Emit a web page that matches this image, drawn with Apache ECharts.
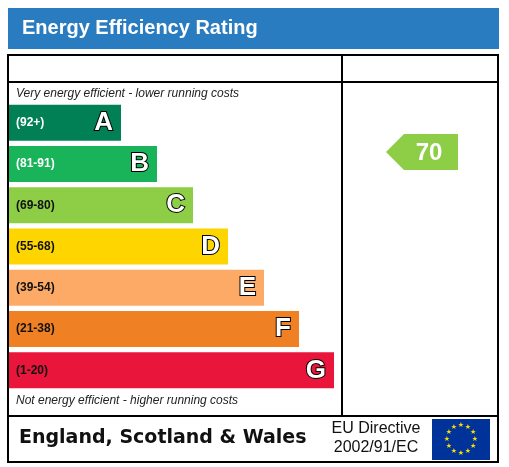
<!DOCTYPE html><html><head><meta charset="utf-8"><script src="https://cdn.jsdelivr.net/npm/echarts@6/dist/echarts.min.js"></script>
<style>body{margin:0}#c{width:509px;height:467px}</style></head><body><div id="c"></div><script>
const bands=['A','B','C','D','E','F','G'];
const ranges=['(92+)','(81-91)','(69-80)','(55-68)','(39-54)','(21-38)','(1-20)'];
const barLengths=[112,148,184,219,255,290,325];
const colors=['#008054','#19b459','#8dce46','#ffd500','#fcaa65','#ef8023','#e9153b'];
const rangeColors=['#fff','#fff','#111','#111','#111','#111','#111'];
const currentRating=70;
const title='Energy Efficiency Rating';
const chart=echarts.init(document.getElementById('c'));
const stars=[];
for(let i=0;i<12;i++){const a=i*Math.PI/6;stars.push({type:'text',style:{text:'★',x:461+14*Math.sin(a),y:439-14*Math.cos(a),fill:'#ffdd00',font:'7px DejaVu Sans',align:'center',verticalAlign:'middle'}});}
chart.setOption({
animation:false,
grid:{left:9,top:102,width:325,height:289},
xAxis:{type:'value',min:0,max:325,show:false},
yAxis:{type:'category',data:bands,inverse:true,show:false},
series:[{type:'bar',barWidth:36,data:barLengths.map((v,i)=>({value:v,itemStyle:{color:colors[i]},
 label:{show:true,position:'insideLeft',offset:[2,0],formatter:ranges[i],color:rangeColors[i],fontSize:12,fontWeight:'bold',fontFamily:'Liberation Sans'}})),
 markPoint:{}},
{type:'bar',barWidth:36,barGap:'-100%',silent:true,data:barLengths.map((v,i)=>({value:v,itemStyle:{color:'transparent'},
 label:{show:true,position:'insideRight',offset:[-3,0],formatter:bands[i],color:'#fff',fontSize:26,fontWeight:'bold',fontFamily:'Liberation Sans',textBorderColor:'#000',textBorderWidth:2}}))}],
graphic:[
{type:'rect',shape:{x:8,y:8,width:491,height:41},style:{fill:'#2a7cc0'}},
{type:'text',style:{text:title,x:22,y:28,fill:'#fff',font:'bold 20px Liberation Sans',verticalAlign:'middle'}},
{type:'rect',shape:{x:8,y:55,width:490,height:407},style:{fill:'none',stroke:'#000',lineWidth:2}},
{type:'line',shape:{x1:8,y1:82,x2:498,y2:82},style:{stroke:'#000',lineWidth:2}},
{type:'line',shape:{x1:342,y1:55,x2:342,y2:416},style:{stroke:'#000',lineWidth:2}},
{type:'line',shape:{x1:8,y1:416,x2:498,y2:416},style:{stroke:'#000',lineWidth:2}},
{type:'text',style:{text:'Very energy efficient - lower running costs',x:16,y:94,fill:'#222',font:'italic 12px Liberation Sans',verticalAlign:'middle'}},
{type:'text',style:{text:'Not energy efficient - higher running costs',x:16,y:401,fill:'#222',font:'italic 12px Liberation Sans',verticalAlign:'middle'}},
{type:'polygon',shape:{points:[[386,152],[404,134],[458,134],[458,170],[404,170]]},style:{fill:colors[2]}},
{type:'text',style:{text:String(currentRating),x:429,y:153,fill:'#fff',font:'bold 24px Liberation Sans',align:'center',verticalAlign:'middle'}},
{type:'text',style:{text:'England, Scotland & Wales',x:19,y:438,fill:'#111',font:'bold 19px DejaVu Sans',verticalAlign:'middle'}},
{type:'text',style:{text:'EU Directive\n2002/91/EC',x:376,y:438,fill:'#111',font:'16px Liberation Sans',lineHeight:19,align:'center',verticalAlign:'middle'}},
{type:'rect',shape:{x:432,y:419,width:58,height:41},style:{fill:'#003399'}},
...stars]
});
</script></body></html>
